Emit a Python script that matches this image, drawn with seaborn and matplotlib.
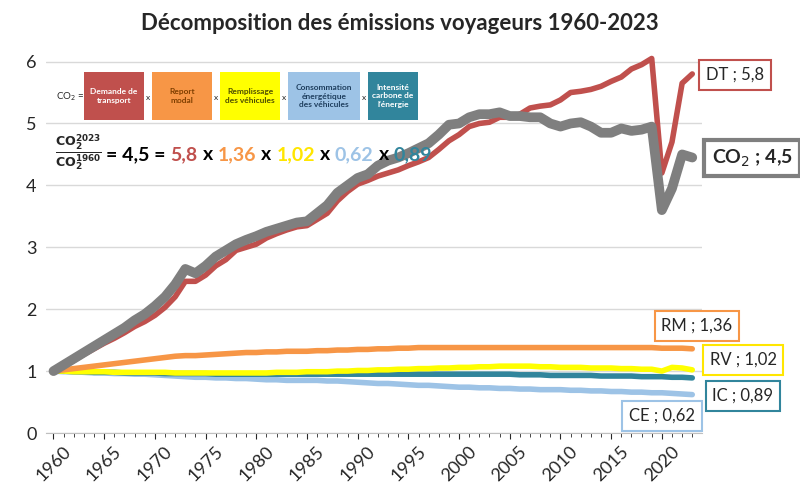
import matplotlib
matplotlib.use("Agg")
import matplotlib.pyplot as plt
import seaborn as sns
import pandas as pd
from matplotlib.patches import Rectangle

years = list(range(1960, 2024))
dt = [1.00, 1.08, 1.17, 1.27, 1.36, 1.45, 1.53, 1.62, 1.72, 1.80,
      1.90, 2.03, 2.20, 2.45, 2.45, 2.55, 2.70, 2.80, 2.95, 3.00,
      3.05, 3.15, 3.22, 3.28, 3.33, 3.35, 3.45, 3.55, 3.75, 3.90,
      4.02, 4.08, 4.15, 4.20, 4.25, 4.32, 4.38, 4.45, 4.58, 4.72,
      4.82, 4.95, 5.00, 5.02, 5.10, 5.10, 5.15, 5.25, 5.28, 5.30,
      5.38, 5.50, 5.52, 5.55, 5.60, 5.68, 5.75, 5.88, 5.95, 6.05,
      4.20, 4.70, 5.65, 5.80]
co2 = [1.00, 1.10, 1.20, 1.30, 1.40, 1.50, 1.60, 1.70, 1.82, 1.92,
       2.05, 2.20, 2.40, 2.65, 2.58, 2.70, 2.85, 2.95, 3.05, 3.12,
       3.18, 3.25, 3.30, 3.35, 3.40, 3.42, 3.55, 3.68, 3.88, 4.00,
       4.12, 4.18, 4.32, 4.40, 4.45, 4.52, 4.60, 4.68, 4.82, 4.98,
       5.00, 5.10, 5.15, 5.15, 5.18, 5.12, 5.12, 5.10, 5.10, 5.00,
       4.95, 5.00, 5.02, 4.95, 4.85, 4.85, 4.92, 4.88, 4.90, 4.95,
       3.60, 3.95, 4.50, 4.45]
rm = [1.00, 1.02, 1.04, 1.06, 1.08, 1.10, 1.12, 1.14, 1.16, 1.18,
      1.20, 1.22, 1.24, 1.25, 1.25, 1.26, 1.27, 1.28, 1.29, 1.30,
      1.30, 1.31, 1.31, 1.32, 1.32, 1.32, 1.33, 1.33, 1.34, 1.34,
      1.35, 1.35, 1.36, 1.36, 1.37, 1.37, 1.38, 1.38, 1.38, 1.38,
      1.38, 1.38, 1.38, 1.38, 1.38, 1.38, 1.38, 1.38, 1.38, 1.38,
      1.38, 1.38, 1.38, 1.38, 1.38, 1.38, 1.38, 1.38, 1.38, 1.38,
      1.37, 1.37, 1.37, 1.36]
rv = [1.00, 1.00, 0.99, 0.99, 0.99, 0.99, 0.98, 0.98, 0.98, 0.98,
      0.98, 0.98, 0.97, 0.97, 0.97, 0.97, 0.97, 0.97, 0.97, 0.97,
      0.97, 0.97, 0.98, 0.98, 0.98, 0.99, 0.99, 0.99, 1.00, 1.00,
      1.01, 1.01, 1.02, 1.02, 1.03, 1.03, 1.04, 1.04, 1.05, 1.05,
      1.06, 1.06, 1.07, 1.07, 1.08, 1.08, 1.08, 1.08, 1.07, 1.07,
      1.06, 1.06, 1.06, 1.05, 1.05, 1.05, 1.04, 1.04, 1.03, 1.03,
      1.00, 1.06, 1.05, 1.02]
ce = [1.00, 0.99, 0.99, 0.98, 0.97, 0.97, 0.96, 0.96, 0.95, 0.95,
      0.94, 0.93, 0.92, 0.91, 0.90, 0.90, 0.89, 0.89, 0.88, 0.88,
      0.87, 0.86, 0.86, 0.85, 0.85, 0.85, 0.85, 0.84, 0.84, 0.83,
      0.82, 0.81, 0.80, 0.80, 0.79, 0.78, 0.77, 0.77, 0.76, 0.75,
      0.74, 0.74, 0.73, 0.73, 0.72, 0.72, 0.71, 0.71, 0.70, 0.70,
      0.70, 0.69, 0.69, 0.68, 0.68, 0.67, 0.67, 0.66, 0.66, 0.65,
      0.65, 0.64, 0.63, 0.62]
ic = [1.00, 1.00, 0.99, 0.99, 0.98, 0.98, 0.98, 0.97, 0.97, 0.97,
      0.97, 0.96, 0.96, 0.96, 0.96, 0.96, 0.95, 0.95, 0.95, 0.95,
      0.95, 0.95, 0.95, 0.95, 0.95, 0.95, 0.95, 0.95, 0.95, 0.95,
      0.95, 0.95, 0.95, 0.95, 0.95, 0.95, 0.95, 0.95, 0.95, 0.95,
      0.95, 0.95, 0.95, 0.95, 0.95, 0.95, 0.94, 0.94, 0.94, 0.93,
      0.93, 0.93, 0.93, 0.93, 0.92, 0.92, 0.92, 0.92, 0.91, 0.91,
      0.91, 0.90, 0.90, 0.89]

series = ["CE", "IC", "RV", "RM", "DT", "CO2"]
values = {"DT": dt, "CO2": co2, "RM": rm, "RV": rv, "CE": ce, "IC": ic}
colors = {"DT": "#C0504D", "CO2": "#7F7F7F", "RM": "#F79646",
          "RV": "#FFFF00", "CE": "#9DC3E6", "IC": "#31859C"}
widths = {"DT": 4, "CO2": 7, "RM": 4, "RV": 4, "CE": 4, "IC": 4}

df = pd.DataFrame({"year": years * len(series),
                   "serie": [s for s in series for _ in years],
                   "value": [v for s in series for v in values[s]]})

sns.set_style("white")
plt.rcParams["font.family"] = ["Lato", "DejaVu Sans"]

fig = plt.figure(figsize=(8, 5), dpi=100)
ax = fig.add_axes([0.058, 0.134, 0.82, 0.78])
for s in series:
    sns.lineplot(data=df[df.serie == s], x="year", y="value", color=colors[s],
                 lw=widths[s], ax=ax, legend=False)
ax.set_xlim(1959.3, 2024)
ax.set_ylim(0, 6.3)
ax.set_xticks(range(1960, 2025, 5))
ax.set_xticks(range(1960, 2024), minor=True)
ax.tick_params(axis="x", which="both", bottom=True, length=4, labelsize=13, rotation=45)
ax.tick_params(axis="x", which="minor", length=3)
ax.tick_params(axis="y", labelsize=13)
ax.set_yticks(range(0, 7))
ax.yaxis.grid(True, color="#D9D9D9", lw=1)
for sp in ["top", "right", "left"]:
    ax.spines[sp].set_visible(False)
ax.spines["bottom"].set_color("#BFBFBF")
ax.set_xlabel("")
ax.set_ylabel("")
fig.suptitle("Décomposition des émissions voyageurs 1960-2023", y=0.975,
             fontsize=16, fontweight="bold")

def px(x, y):
    return x / 800, 1 - y / 500

# right-hand labels
labels = [("DT ; 5,8", 735, 75, "#C0504D", 12, "normal"),
          (r"CO$_2$ ; 4,5", 752, 158, "#7F7F7F", 14, "bold"),
          ("RM ; 1,36", 697, 326, "#F79646", 12, "normal"),
          ("RV ; 1,02", 743, 360, "#FFE600", 12, "normal"),
          ("IC ; 0,89", 743, 396, "#31859C", 12, "normal"),
          ("CE ; 0,62", 662, 416, "#9DC3E6", 12, "normal")]
for txt, x, y, c, fs, fw in labels:
    fig.text(*px(x, y), txt, ha="center", va="center", fontsize=fs, fontweight=fw,
             bbox=dict(boxstyle="square,pad=0.4", fc="white", ec=c, lw=1.5 if fw == "normal" else 3))

# formula boxes
fig.text(*px(70, 97), r"CO$_2$ =", ha="center", va="center", fontsize=7)
boxes = [("Demande de\ntransport", 84, 144, "#C0504D", "white"),
         ("Report\nmodal", 152, 212, "#F79646", "#7F3F00"),
         ("Remplissage\ndes véhicules", 220, 280, "#FFFF00", "#4F4F00"),
         ("Consommation\nénergétique\ndes véhicules", 288, 360, "#9DC3E6", "#1F3F5F"),
         ("Intensité\ncarbone de\nl'énergie", 368, 418, "#31859C", "white")]
for i, (txt, x0, x1, c, tc) in enumerate(boxes):
    fig.add_artist(Rectangle(px(x0, 120), (x1 - x0) / 800, 48 / 500, transform=fig.transFigure,
                             fc=c, ec="none"))
    fig.text(*px((x0 + x1) / 2, 96), txt, ha="center", va="center", fontsize=6,
             fontweight="bold", color=tc, linespacing=1.3)
    if i < len(boxes) - 1:
        fig.text(*px((x1 + boxes[i + 1][1]) / 2, 98), "x", ha="center", va="center", fontsize=6)

frac = fig.text(*px(55, 153), r"$\frac{\mathbf{CO_2^{2023}}}{\mathbf{CO_2^{1960}}}$",
                ha="left", va="center", fontsize=13)
parts = [("= 4,5 =", "black"), ("5,8", "#C0504D"), ("x", "black"),
         ("1,36", "#F79646"), ("x", "black"), ("1,02", "#FFE600"),
         ("x", "black"), ("0,62", "#9DC3E6"), ("x", "black"), ("0,89", "#31859C")]
r = fig.canvas.get_renderer()
xpos = frac.get_window_extent(r).x1 + 4
for txt, c in parts:
    t = fig.text(xpos / 800, 1 - 155 / 500, txt, ha="left", va="center", fontsize=14,
                 fontweight="bold", color=c)
    xpos = t.get_window_extent(r).x1 + 5

fig.savefig("out.png", dpi=100)
